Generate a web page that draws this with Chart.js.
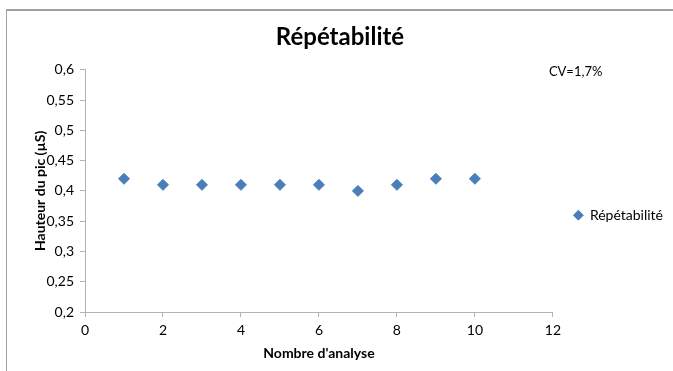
<!DOCTYPE html>
<html>
<head>
<meta charset="utf-8">
<script src="https://cdn.jsdelivr.net/npm/chart.js@4"></script>
<style>
  body { margin: 0; background: #fff; }
  #frame {
    position: absolute; left: 6px; top: 9px;
    width: 667px; height: 362px;
    border-left: 1px solid #a0a0a0; border-top: 2px solid #a0a0a0;
  }
  canvas { display: block; }
</style>
</head>
<body>
<div id="frame"><canvas id="chart" width="666" height="360"></canvas></div>
<script>
// === DATA ===
const analyses = [1, 2, 3, 4, 5, 6, 7, 8, 9, 10];
const hauteurs = [0.42, 0.41, 0.41, 0.41, 0.41, 0.41, 0.40, 0.41, 0.42, 0.42];
const seriesName = "Répétabilité";
const cvLabel = "CV=1,7%";

const FONT = "Lato, 'Open Sans', sans-serif";
const BLUE = "#4a7ebb";
const AXIS = "#b3b3b3";

// === CV LABEL ===
const cvText = {
  id: "cvText",
  afterDraw(chart) {
    const { ctx, chartArea } = chart;
    ctx.save();
    ctx.font = "13px " + FONT;
    ctx.fillStyle = "#000";
    ctx.textBaseline = "middle";
    ctx.fillText(cvLabel, chartArea.right - 4, chartArea.top + 2);
    ctx.restore();
  }
};

const fmt = v => String(Math.round(v * 100) / 100).replace(".", ",");

new Chart(document.getElementById("chart"), {
  type: "scatter",
  data: {
    datasets: [{
      label: seriesName,
      data: analyses.map((x, i) => ({ x: x, y: hauteurs[i] })),
      pointStyle: "rectRot",
      pointRadius: 5.5,
      pointHoverRadius: 5.5,
      backgroundColor: BLUE,
      borderColor: BLUE,
      borderWidth: 1
    }]
  },
  options: {
    responsive: false,
    animation: false,
    layout: { padding: 0 },
    plugins: {
      title: {
        display: true,
        text: seriesName,
        color: "#000",
        font: { family: FONT, size: 24, weight: "bold" },
        padding: { top: 12, bottom: 18 }
      },
      legend: {
        position: "right",
        align: "center",
        // empty title only pushes the entry a bit lower, like the original
        title: { display: true, text: "", font: { size: 12 }, padding: { top: 34, bottom: 0 } },
        labels: {
          usePointStyle: true,
          boxWidth: 9,
          boxHeight: 7,
          padding: 8,
          color: "#000",
          font: { family: FONT, size: 14 }
        }
      },
      tooltip: { enabled: false }
    },
    scales: {
      x: {
        type: "linear",
        min: 0,
        max: 12,
        ticks: { stepSize: 2, color: "#000", font: { family: FONT, size: 14 }, padding: 5 },
        grid: { drawOnChartArea: false, color: AXIS, tickLength: 5 },
        border: { color: AXIS },
        title: {
          display: true,
          text: "Nombre d'analyse",
          color: "#000",
          font: { family: FONT, size: 14, weight: "bold" },
          padding: { top: 0, bottom: 9 }
        },
        afterFit(scale) { scale.height = 59; }
      },
      y: {
        min: 0.2,
        max: 0.6,
        ticks: { stepSize: 0.05, color: "#000", font: { family: FONT, size: 14 }, padding: 6, callback: v => fmt(v) },
        grid: { drawOnChartArea: false, color: AXIS, tickLength: 5 },
        border: { color: AXIS },
        title: {
          display: true,
          text: "Hauteur du pic (µS)",
          color: "#000",
          font: { family: FONT, size: 14, weight: "bold" },
          padding: { top: 25, bottom: 0 }
        },
        afterFit(scale) { scale.width = 78; }
      },
      // blank spacer between plot and legend
      gap: {
        type: "linear",
        position: "right",
        ticks: { display: false },
        grid: { display: false },
        border: { display: false },
        afterFit(scale) { scale.width = 13; }
      }
    }
  },
  plugins: [cvText]
});
</script>
</body>
</html>
